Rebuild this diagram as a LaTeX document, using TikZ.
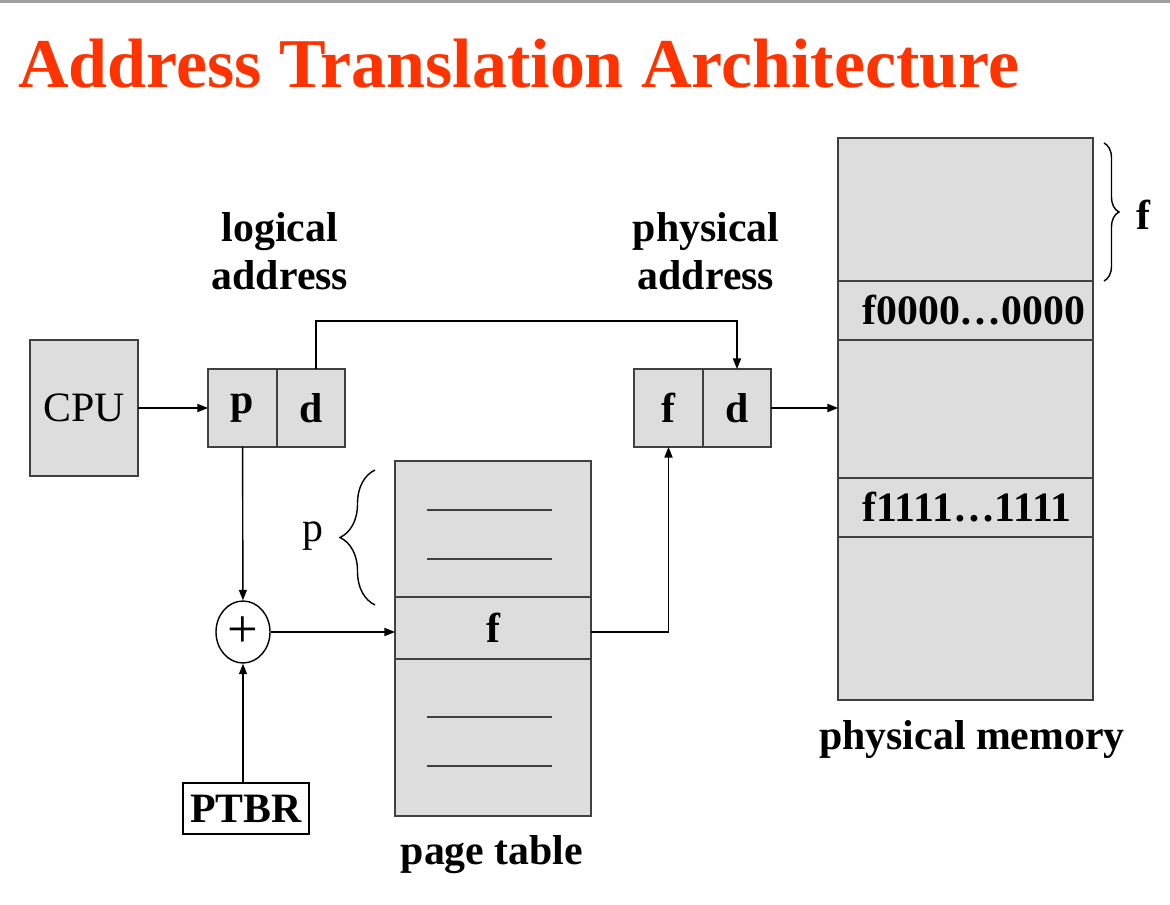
\documentclass[tikz,border=0pt]{standalone}
\usepackage{fontspec}
\setmainfont{Liberation Serif}
\usetikzlibrary{positioning, arrows.meta, shapes.geometric, decorations.pathreplacing}
\definecolor{titlered}{HTML}{FF3300}
\definecolor{boxgray}{HTML}{DDDDDD}
\definecolor{edgegray}{HTML}{404040}
\newcommand{\lblfont}{\bfseries\fontsize{23.8}{27}\selectfont}
\newcommand{\plainfont}{\fontsize{23.8}{27}\selectfont}
\tikzset{
  cell/.style={draw=edgegray, fill=boxgray, line width=1pt, inner sep=0pt, outer sep=0pt, font=\lblfont},
  lbl/.style={font=\lblfont, inner sep=0pt},
  conn/.style={->, line width=0.8pt},
  entry/.style={line width=0.9pt, edgegray},
  bracebig/.style={decorate, line width=0.8pt},
}

\begin{document}
\begin{tikzpicture}[x=0.02cm, y=-0.02cm, >={Triangle[length=6pt,width=4.6pt]}]
  \useasboundingbox (0,0) rectangle (1170,905);
  \fill[gray!75] (0,0) rectangle (1170,3);
  \node[anchor=base west, inner sep=0pt, text=titlered, font=\bfseries\fontsize{39.8}{45}\selectfont] (title) at (18,88) {Address Translation Architecture};

  % CPU and logical address
  \node[cell, font=\plainfont, minimum width=2.16cm, minimum height=2.72cm] (cpu) at (84,408) {CPU};
  \node[cell, minimum width=1.38cm, minimum height=1.56cm] (lp) at (242.5,408) {p};
  \node[cell, minimum width=1.36cm, minimum height=1.56cm, right=0pt of lp] (ld) {d};
  \node[lbl, align=center] (laddr) at (280,251) {logical\\address};

  % physical address
  \node[cell, minimum width=1.38cm, minimum height=1.56cm] (pf) at (668.5,408) {f};
  \node[cell, minimum width=1.36cm, minimum height=1.56cm, right=0pt of pf] (pd) {d};
  \node[lbl, align=center] (paddr) at (706,251) {physical\\address};

  % page table
  \node[cell, minimum width=3.92cm, minimum height=2.72cm] (pt0) at (493,529) {};
  \node[cell, minimum width=3.92cm, minimum height=1.24cm, below=0pt of pt0] (ptf) {f};
  \node[cell, minimum width=3.92cm, minimum height=3.14cm, below=0pt of ptf] (pt1) {};
  \foreach \y in {510,559,717,766}
    \draw[entry] (427,\y) -- (552,\y);
  \node[lbl, anchor=base] (ptlbl) at (492,864) {page table};

  % physical memory
  \node[cell, minimum width=5.1cm, minimum height=2.86cm] (mem0) at (965.5,209.5) {};
  \node[cell, minimum width=5.1cm, minimum height=1.18cm, below=0pt of mem0] (memf0) {};
  \node[cell, minimum width=5.1cm, minimum height=2.76cm, below=0pt of memf0] (mem1) {};
  \node[cell, minimum width=5.1cm, minimum height=1.18cm, below=0pt of mem1] (memf1) {};
  \node[cell, minimum width=5.1cm, minimum height=3.26cm, below=0pt of memf1] (mem2) {};
  \node[lbl, anchor=west] (flo) at ([xshift=0.48cm]memf0.west) {f0000…0000};
  \node[lbl, anchor=west] (fhi) at ([xshift=0.48cm]memf1.west) {f1111…1111};
  \node[lbl, anchor=base] (memlbl) at (972,749) {physical memory};

  % adder and PTBR
  \node[draw, ellipse, fill=white, line width=0.8pt, minimum width=1.08cm, minimum height=1.24cm, inner sep=0pt, font=\fontsize{31}{31}\selectfont] (plus) at (243,632) {+};
  \node[draw, fill=white, line width=0.8pt, lbl, minimum width=2.52cm, minimum height=1.02cm] (ptbr) at (246,808.5) {PTBR};

  % braces
  \draw[bracebig, decoration={brace, amplitude=0.7cm}] (375,605) -- (375,470) node[midway] (pmid) {};
  \node[font=\plainfont, inner sep=0pt] (plbl) at (313,536) {p};
  \draw[bracebig, decoration={brace, amplitude=0.3cm}] (1104,143) -- (1104,281) node[midway] (fmid) {};
  \node[lbl] (flbl) at (1143,215) {f};

  % connectors
  \draw[conn] (cpu) -- (lp);
  \draw[conn] ([xshift=0.1cm]ld.north) -- ++(0,-48) -| (pd.north);
  \draw[conn] (pd.east) -- (pd.east -| mem1.west);
  \draw[conn] (lp) -- (plus);
  \draw[conn] (plus) -- (plus -| ptf.west);
  \draw[conn] (plus -| ptf.east) -| (pf.south);
  \draw[conn] (ptbr.north -| plus) -- (plus.south);
\end{tikzpicture}
\end{document}
